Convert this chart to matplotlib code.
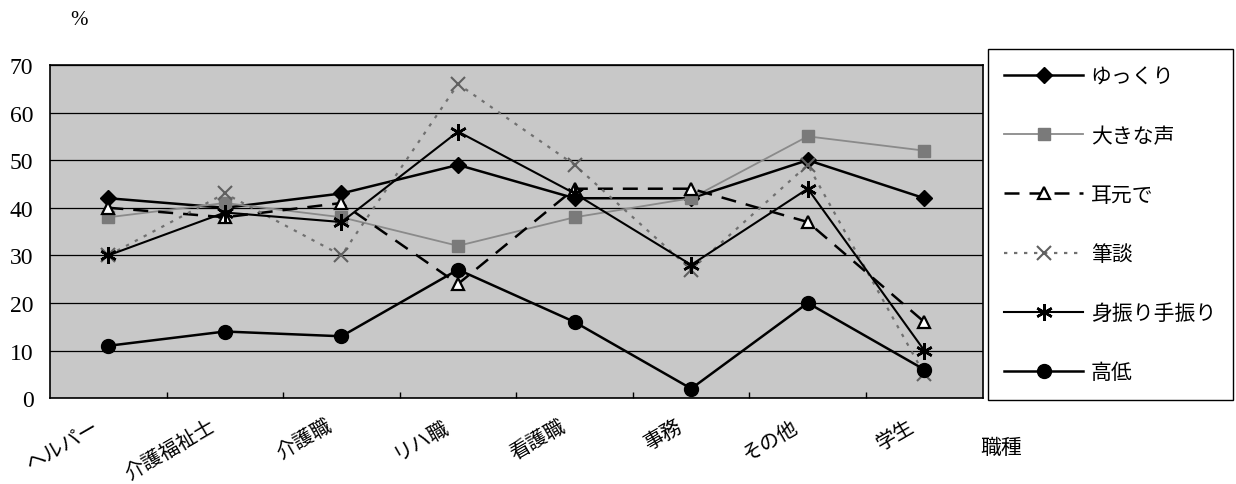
import matplotlib.pyplot as plt
import matplotlib.transforms as mtransforms
import numpy as np

plt.rcParams['font.family'] = ['Noto Sans CJK JP', 'DejaVu Sans']

# Job categories along the x axis
jobs = ['ヘルパー', '介護福祉士', '介護職', 'リハ職', '看護職', '事務', 'その他', '学生']

# Percent of respondents per way of speaking
yukkuri = [42, 40, 43, 49, 42, 42, 50, 42]
ookina_koe = [38, 41, 38, 32, 38, 42, 55, 52]
mimimoto = [40, 38, 41, 24, 44, 44, 37, 16]
hitsudan = [30, 43, 30, 66, 49, 27, 49, 5]
miburi = [30, 39, 37, 56, 43, 28, 44, 10]
koutei = [11, 14, 13, 27, 16, 2, 20, 6]

x = np.arange(len(jobs))

fig = plt.figure(figsize=(12.36, 4.85), dpi=100)
ax = fig.add_axes([0.0405, 0.177, 0.7545, 0.687])
ax.set_facecolor('#c8c8c8')

ax.plot(x, yukkuri, color='black', lw=1.8, marker='D', ms=8, mfc='black',
        label='ゆっくり', zorder=3)
ax.plot(x, ookina_koe, color='#8a8a8a', lw=1.3, marker='s', ms=9,
        mfc='#7a7a7a', mec='#7a7a7a', label='大きな声', zorder=3)
ax.plot(x, mimimoto, color='black', lw=1.8, ls=(0, (6, 4)), marker='^', ms=9,
        mfc='white', mec='black', mew=1.6, label='耳元で', zorder=3)
ax.plot(x, hitsudan, color='#707070', lw=1.6, ls=(0, (1.5, 3)), marker='x', ms=10,
        mew=1.5, mec='#606060', label='筆談', zorder=3)
ax.plot(x, miburi, color='black', lw=1.5, marker=(6, 2, 0), ms=12, mew=1.8,
        label='身振り手振り', zorder=3)
ax.plot(x, koutei, color='black', lw=1.8, marker='o', ms=10, mfc='black',
        label='高低', zorder=4)

ax.set_xlim(-0.5, len(jobs) - 0.5)
ax.set_ylim(0, 70)
ax.set_yticks(range(0, 71, 10))
ax.yaxis.grid(True, color='black', lw=0.9)
ax.set_axisbelow(True)
ax.tick_params(axis='y', length=0, pad=12)
for t in ax.get_yticklabels():
    t.set_fontfamily('Liberation Serif')
    t.set_fontsize(17)

# category names slanted under each point, boundaries marked by small inward ticks
ax.set_xticks(x)
ax.set_xticklabels(jobs, rotation=30, ha='right', va='center',
                   rotation_mode='anchor', fontsize=14.5)
ax.tick_params(axis='x', which='major', length=0, pad=19)
shift = mtransforms.ScaledTranslation(-0.11, 0, fig.dpi_scale_trans)
for t in ax.get_xticklabels():
    t.set_transform(t.get_transform() + shift)
ax.set_xticks(x[:-1] + 0.5, minor=True)
ax.tick_params(axis='x', which='minor', direction='in', length=4, width=1)

for s in ax.spines.values():
    s.set_color('black')
    s.set_linewidth(1.2)

fig.text(0.064, 0.957, '%', fontsize=15, family='Liberation Serif', ha='center', va='center')
fig.text(0.81, 0.076, '職種', fontsize=15, ha='center', va='center')

fig.legend(loc='upper left', bbox_to_anchor=(0.799, 0.897), fontsize=15,
           frameon=True, fancybox=False, edgecolor='black', framealpha=1,
           handlelength=3.8, labelspacing=1.78, borderpad=0.8, handletextpad=0.35,
           borderaxespad=0)

fig.savefig('out.png', dpi=100, facecolor='white')
